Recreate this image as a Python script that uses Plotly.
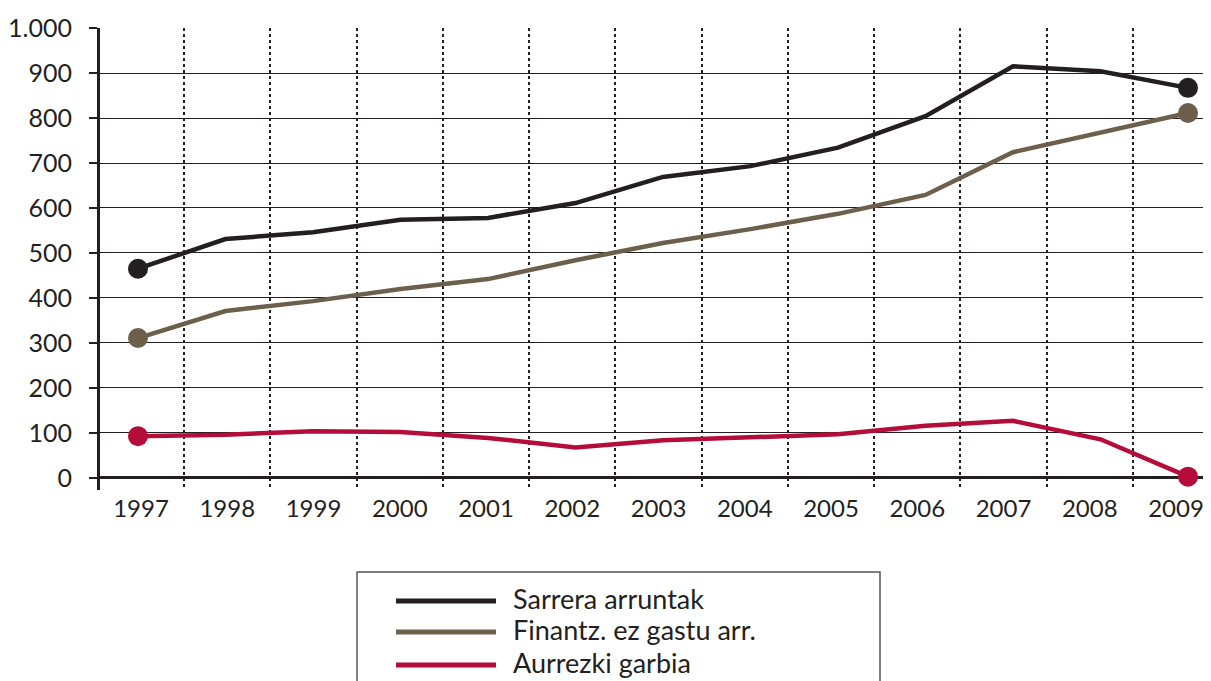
import plotly.graph_objects as go

years = list(range(1997, 2010))
sarrera = [465, 531, 546, 574, 578, 611, 669, 693, 734, 804, 915, 904, 867]
finantz = [311, 371, 393, 420, 442, 484, 522, 553, 587, 629, 724, 767, 811]
aurrezki = [93, 96, 104, 102, 89, 68, 84, 91, 97, 116, 127, 86, 3]

names = ["Sarrera arruntak", "Finantz. ez gastu arr.", "Aurrezki garbia"]
colors = ["#231f20", "#6c604c", "#b50d3a"]
series = [sarrera, finantz, aurrezki]

FONT = "Lato"
OFF = 8  # page body margin offset
W, H = 1203, 673
ML, MR, MT, MB = 92, 0, 20, 191
PW, PH = W - ML - MR, H - MT - MB


def px_x(p):
    return (p - OFF - ML) / PW


def px_y(p):
    return (H - MB - (p - OFF)) / PH


fig = go.Figure()
for name, col, vals in zip(names, colors, series):
    fig.add_trace(go.Scatter(
        x=years, y=vals, name=name, mode="lines",
        line=dict(color=col, width=4.5),
        showlegend=False, cliponaxis=False,
    ))
    # end-point markers
    fig.add_trace(go.Scatter(
        x=[years[0], years[-1]], y=[vals[0], vals[-1]], mode="markers",
        marker=dict(color=col, size=20, opacity=1, line=dict(width=0)),
        showlegend=False, cliponaxis=False, hoverinfo="skip",
    ))

# invisible trace to anchor the category (label/grid) axis
fig.add_trace(go.Scatter(x=years, y=sarrera, xaxis="x2", mode="lines",
                         line=dict(width=0), opacity=0, showlegend=False,
                         hoverinfo="skip"))

# custom legend (long line samples, boxed)
fig.add_shape(type="rect", xref="paper", yref="paper",
              x0=px_x(357), x1=px_x(880), y0=px_y(700), y1=px_y(572),
              line=dict(color="#555555", width=1.5), fillcolor="rgba(0,0,0,0)")
row_y = [601, 632, 665]
for name, col, ry in zip(names, colors, row_y):
    fig.add_shape(type="line", xref="paper", yref="paper",
                  x0=px_x(396), x1=px_x(496), y0=px_y(ry), y1=px_y(ry),
                  line=dict(color=col, width=5))
    fig.add_annotation(xref="paper", yref="paper", x=px_x(511), y=px_y(ry - 3),
                       text=name, showarrow=False, xanchor="left", yanchor="middle",
                       font=dict(family=FONT, size=27, color="#231f20"))

fig.update_layout(
    width=W, height=H,
    margin=dict(l=ML, r=MR, t=MT, b=MB, autoexpand=False),
    paper_bgcolor="white", plot_bgcolor="white",
    separators=",.",
    font=dict(family=FONT, size=25, color="#231f20"),
    showlegend=False,
    xaxis=dict(
        range=[1996.566, 2009.263], automargin=False,
        showticklabels=False, showgrid=False, ticks="",
        showline=False, zeroline=False,
    ),
    xaxis2=dict(
        overlaying="x", side="bottom", anchor="y",
        range=[1996.525, 2009.406], automargin=False,
        tickvals=years, ticktext=[str(y) for y in years],
        tickfont=dict(size=24),
        showgrid=False, ticks="", ticklabelstandoff=2, ticklabeloverflow="allow",
        showline=False, zeroline=False,
        minor=dict(tick0=1997.5, dtick=1, showgrid=True, griddash="dot",
                   gridcolor="#231f20", gridwidth=1.5, ticks=""),
    ),
)
fig.update_yaxes(
    range=[-26.7, 1000], automargin=False,
    tickvals=[0, 100, 200, 300, 400, 500, 600, 700, 800, 900, 1000],
    tickformat=",d",
    showgrid=True, gridcolor="#231f20", gridwidth=1.3,
    zeroline=True, zerolinecolor="#231f20", zerolinewidth=3,
    showline=True, linecolor="#231f20", linewidth=3,
    ticks="outside", ticklen=8, tickcolor="#231f20", tickwidth=1.5,
    ticklabelstandoff=12,
)

fig.write_html("out.html")
